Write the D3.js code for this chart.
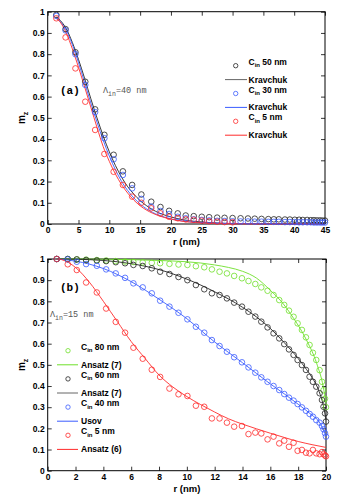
<!DOCTYPE html>
<html>
<head>
<meta charset="utf-8">
<script src="https://cdn.jsdelivr.net/npm/d3@7"></script>
<style>
  body { margin: 0; background: #fff; }
  text { font-family: "Liberation Sans", Arial, sans-serif; }
  text.mono { font-family: "Liberation Mono", "DejaVu Sans Mono", monospace; }
  .tick text { font-size: 8.5px; font-weight: bold; fill: #000; }
  .tick line { stroke: #000; stroke-width: 0.8; }
</style>
</head>
<body>
<svg id="chart" width="359" height="498"></svg>
<script>
// ---- panel (a) data ----
let rA = [1.4, 2.9, 4.5, 6.1, 7.7, 9.2, 10.7, 12.2, 13.7, 15.2, 16.8, 18.3, 19.7, 21.1, 22.4, 23.7, 25.0, 26.2, 27.5, 28.7,
          30.0, 31.3, 32.5, 33.6, 34.7, 35.8, 36.7, 37.5, 38.5, 39.3, 40.1, 40.8, 41.4, 42.1, 42.7, 43.2, 43.7, 44.2, 44.6, 45.0];
let c50 = [0.985, 0.918, 0.809, 0.670, 0.540, 0.420, 0.326, 0.248, 0.184, 0.139, 0.105, 0.080, 0.062, 0.050, 0.040, 0.037, 0.034, 0.032, 0.030, 0.029,
           0.028, 0.027, 0.026, 0.025, 0.024, 0.023, 0.022, 0.022, 0.021, 0.021, 0.020, 0.020, 0.019, 0.019, 0.018, 0.018, 0.017, 0.017, 0.016, 0.016];
let c30 = [0.980, 0.912, 0.800, 0.655, 0.527, 0.404, 0.305, 0.231, 0.168, 0.118, 0.082, 0.061, 0.047, 0.034, 0.027, 0.022, 0.019, 0.017, 0.015, 0.014,
           0.013, 0.012, 0.012, 0.011, 0.011, 0.010, 0.010, 0.010, 0.009, 0.009, 0.009, 0.008, 0.008, 0.008, 0.008, 0.007, 0.007, 0.007, 0.007, 0.007];
let c5 = [0.969, 0.879, 0.733, 0.576, 0.443, 0.330, 0.246, 0.184, 0.129, 0.100, 0.074, 0.050, 0.034, 0.027, 0.022, 0.020, 0.016, 0.013, 0.011, 0.009, 0.008];

let rAL = [1.4, 2, 3, 4, 5, 6, 7, 8, 9, 10, 11, 12, 13, 14, 15, 16, 17, 18, 19, 20, 22, 24, 26, 28, 30, 35, 40, 45];
let kr50 = [0.975, 0.96, 0.92, 0.855, 0.775, 0.685, 0.59, 0.5, 0.415, 0.34, 0.275, 0.22, 0.175, 0.14, 0.11, 0.087, 0.068, 0.053, 0.042, 0.033,
            0.02, 0.012, 0.007, 0.004, 0.002, 0.001, 0, 0];
let kr30 = [0.972, 0.955, 0.912, 0.845, 0.76, 0.665, 0.57, 0.48, 0.395, 0.32, 0.255, 0.2, 0.157, 0.122, 0.094, 0.072, 0.055, 0.042, 0.032, 0.024,
            0.014, 0.008, 0.005, 0.003, 0.002, 0.001, 0, 0];
let kr5 = [0.968, 0.952, 0.9, 0.825, 0.738, 0.645, 0.55, 0.455, 0.365, 0.295, 0.235, 0.185, 0.145, 0.112, 0.086, 0.066, 0.051, 0.039, 0.03, 0.023,
           0.012, 0.007, 0.004, 0.002, 0.001, 0, 0, 0];

// ---- panel (b) data ----
let rB = [0.65, 1.44, 2.09, 2.76, 3.53, 4.2, 4.89, 5.56, 6.16, 6.83, 7.48, 8.08, 8.75, 9.4, 10.04, 10.65, 11.25, 11.8, 12.35, 12.88, 13.4,
          13.96, 14.43, 14.92, 15.35, 15.8, 16.23, 16.64, 17.0, 17.34, 17.67, 17.96, 18.27, 18.56, 18.82, 19.06, 19.3, 19.54, 19.71, 19.82, 19.93, 20.0];
let c80 = [1.0, 1.0, 0.998, 0.997, 0.995, 0.993, 0.99, 0.988, 0.986, 0.984, 0.982, 0.98, 0.977, 0.974, 0.972, 0.966, 0.961, 0.951, 0.940, 0.932, 0.920,
           0.909, 0.896, 0.882, 0.866, 0.850, 0.830, 0.806, 0.783, 0.756, 0.727, 0.696, 0.665, 0.630, 0.594, 0.557, 0.523, 0.475, 0.42, 0.38, 0.34, 0.30];
let c60 = [1.0, 1.0, 0.998, 0.995, 0.993, 0.99, 0.985, 0.980, 0.972, 0.967, 0.956, 0.940, 0.929, 0.915, 0.900, 0.877, 0.857, 0.838, 0.830, 0.814, 0.794,
           0.775, 0.751, 0.728, 0.704, 0.677, 0.649, 0.625, 0.598, 0.573, 0.547, 0.523, 0.499, 0.476, 0.444, 0.420, 0.397, 0.366, 0.334, 0.302, 0.271, 0.232];
let c40 = [1.0, 0.998, 0.987, 0.976, 0.968, 0.951, 0.932, 0.911, 0.885, 0.866, 0.838, 0.803, 0.775, 0.746, 0.715, 0.680, 0.652, 0.617, 0.589, 0.562, 0.536,
           0.512, 0.488, 0.463, 0.441, 0.420, 0.400, 0.381, 0.362, 0.345, 0.331, 0.315, 0.299, 0.283, 0.268, 0.255, 0.239, 0.227, 0.211, 0.196, 0.177, 0.161];
let cb5 = [1.0, 0.975, 0.948, 0.889, 0.842, 0.766, 0.703, 0.652, 0.581, 0.529, 0.477, 0.443, 0.388, 0.361, 0.353, 0.307, 0.302, 0.247, 0.247, 0.227, 0.208,
           0.211, 0.173, 0.180, 0.176, 0.148, 0.161, 0.129, 0.142, 0.113, 0.132, 0.094, 0.098, 0.085, 0.082, 0.098, 0.082, 0.078, 0.088, 0.078, 0.072, 0.068];

let rG = [0.65, 2, 4, 6, 8, 10, 11, 12, 13, 14, 15, 16, 16.7, 17.67, 18.6, 19.33, 19.8, 20];
let ans80 = [1.0, 1.0, 0.999, 0.997, 0.993, 0.987, 0.981, 0.972, 0.96, 0.942, 0.91, 0.852, 0.806, 0.72, 0.617, 0.507, 0.397, 0.318];
let rK = [0.65, 2, 4, 6, 8, 10, 12, 14, 16, 17, 18, 18.6, 19, 19.5, 19.8, 20];
let ans60 = [1.0, 0.999, 0.993, 0.978, 0.95, 0.905, 0.845, 0.772, 0.672, 0.605, 0.53, 0.478, 0.44, 0.375, 0.31, 0.24];
let rU = [0.65, 2, 4, 6, 8, 10, 12, 14, 16, 17, 18, 19, 19.5, 20];
let usov = [1.0, 0.99, 0.955, 0.893, 0.81, 0.718, 0.608, 0.51, 0.41, 0.363, 0.314, 0.262, 0.232, 0.165];
let rR = [0.65, 1, 2, 3, 4, 5, 6, 7, 8, 9, 10, 11, 12, 13, 14, 15, 16, 17, 18, 19, 20];
let ans6 = [1.0, 0.997, 0.96, 0.89, 0.80, 0.705, 0.61, 0.53, 0.452, 0.395, 0.35, 0.312, 0.277, 0.245, 0.22, 0.198, 0.177, 0.157, 0.138, 0.123, 0.11];

let yTicks = [0, 0.1, 0.2, 0.3, 0.4, 0.5, 0.6, 0.7, 0.8, 0.9, 1];
let xTicksA = [0, 5, 10, 15, 20, 25, 30, 35, 40, 45];
let xTicksB = [0, 2, 4, 6, 8, 10, 12, 14, 16, 18, 20];

let colBlack = "#222", colBlue = "#3a5cff", colRed = "#ff2a2a", colGreen = "#6ee02a";

let svg = d3.select("#chart");

function panel(cfg) {
  let x = d3.scaleLinear().domain(cfg.xDomain).range([47.7, cfg.xRight]);
  let y = d3.scaleLinear().domain([0, 1]).range([cfg.yBottom, cfg.yTop]);
  let g = svg.append("g");

  let fmt = d => d3.format("~g")(d);
  g.append("g").attr("transform", "translate(0," + cfg.yBottom + ")")
    .call(d3.axisBottom(x).tickValues(cfg.xTicks).tickFormat(fmt).tickSizeInner(-4).tickSizeOuter(0).tickPadding(3));
  g.append("g").attr("transform", "translate(0," + cfg.yTop + ")")
    .call(d3.axisTop(x).tickValues(cfg.xTicks).tickFormat("").tickSizeInner(-4).tickSizeOuter(0));
  g.append("g").attr("transform", "translate(47.7,0)")
    .call(d3.axisLeft(y).tickValues(yTicks).tickFormat(fmt).tickSizeInner(-4).tickSizeOuter(0).tickPadding(3));
  g.append("g").attr("transform", "translate(" + cfg.xRight + ",0)")
    .call(d3.axisRight(y).tickValues(yTicks).tickFormat("").tickSizeInner(-4).tickSizeOuter(0));
  g.selectAll(".domain").remove();
  g.append("rect").attr("x", 47.7).attr("y", cfg.yTop)
    .attr("width", cfg.xRight - 47.7).attr("height", cfg.yBottom - cfg.yTop)
    .attr("fill", "none").attr("stroke", "#000").attr("stroke-width", 1);

  let line = d3.line().x(d => x(d[0])).y(d => y(d[1])).curve(d3.curveMonotoneX);
  cfg.lines.forEach(s => {
    g.append("path").datum(d3.zip(s.r, s.v)).attr("d", line)
      .attr("fill", "none").attr("stroke", s.color).attr("stroke-width", 0.9);
  });
  cfg.points.forEach(s => {
    g.append("g").selectAll("circle").data(d3.zip(s.r, s.v)).enter().append("circle")
      .attr("cx", d => x(d[0])).attr("cy", d => y(d[1])).attr("r", 2.8)
      .attr("fill", "none").attr("stroke", s.color).attr("stroke-width", 0.8);
  });

  // axis labels
  g.append("text").attr("x", (47.7 + cfg.xRight) / 2).attr("y", cfg.yBottom + 21)
    .attr("text-anchor", "middle").attr("font-size", 9.5).attr("font-weight", "bold").text("r (nm)");
  let yl = g.append("text").attr("transform", "translate(25," + (cfg.yBottom + cfg.yTop) / 2 + ") rotate(-90)")
    .attr("text-anchor", "middle").attr("font-size", 10).attr("font-weight", "bold");
  yl.append("tspan").text("m");
  yl.append("tspan").attr("font-size", 7).attr("dy", 2.5).text("z");

  // panel tag and annotation
  g.append("text").attr("class", "mono").attr("x", cfg.tag[0]).attr("y", cfg.tag[1])
    .attr("font-size", 11).attr("font-weight", "bold").text(cfg.tag[2]);
  let an = g.append("text").attr("class", "mono").attr("x", cfg.ann[0]).attr("y", cfg.ann[1])
    .attr("font-size", 8.5).attr("fill", "#555");
  an.append("tspan").text("Λ");
  an.append("tspan").attr("font-size", 6.5).attr("dy", 3).text("in");
  an.append("tspan").attr("dy", -3).text(cfg.ann[2]);

  // legend
  let lg = g.append("g");
  cfg.legend.forEach((e, i) => {
    let yy = cfg.lg.y0 + i * cfg.lg.dy;
    if (e.type === "m") {
      lg.append("circle").attr("cx", cfg.lg.mx).attr("cy", yy).attr("r", 2.2)
        .attr("fill", "none").attr("stroke", e.color).attr("stroke-width", 0.8);
      let t = lg.append("text").attr("x", cfg.lg.tx).attr("y", yy - 1).attr("font-size", 8.5).attr("font-weight", "bold");
      t.append("tspan").text("C");
      t.append("tspan").attr("font-size", 6).attr("dy", 2.5).text("in");
      t.append("tspan").attr("dy", -2.5).text(" " + e.label);
    } else {
      lg.append("line").attr("x1", cfg.lg.l1).attr("x2", cfg.lg.l2).attr("y1", yy).attr("y2", yy)
        .attr("stroke", e.color).attr("stroke-width", 1);
      lg.append("text").attr("x", cfg.lg.tx).attr("y", yy + 3).attr("font-size", 8.5).attr("font-weight", "bold").text(e.label);
    }
  });
}

panel({
  xDomain: [0, 45], xRight: 325, yTop: 11.7, yBottom: 224, xTicks: xTicksA,
  lines: [{ r: rAL, v: kr50, color: colBlack }, { r: rAL, v: kr30, color: colBlue }, { r: rAL, v: kr5, color: colRed }],
  points: [{ r: rA, v: c50, color: colBlack }, { r: rA, v: c30, color: colBlue }, { r: rA.slice(0, c5.length), v: c5, color: colRed }],
  tag: [60, 94, "(a)"], ann: [103, 93, "=40  nm"],
  lg: { y0: 65.7, dy: 13.9, mx: 235.7, l1: 225, l2: 247, tx: 248.5 },
  legend: [
    { type: "m", color: colBlack, label: "50 nm" }, { type: "l", color: "#666", label: "Kravchuk" },
    { type: "m", color: colBlue, label: "30 nm" }, { type: "l", color: colBlue, label: "Kravchuk" },
    { type: "m", color: colRed, label: "5 nm" }, { type: "l", color: colRed, label: "Kravchuk" }
  ]
});

panel({
  xDomain: [0, 20], xRight: 326, yTop: 259, yBottom: 470.7, xTicks: xTicksB,
  lines: [{ r: rG, v: ans80, color: colGreen }, { r: rK, v: ans60, color: colBlack },
          { r: rU, v: usov, color: colBlue }, { r: rR, v: ans6, color: colRed }],
  points: [{ r: rB, v: c80, color: colGreen }, { r: rB, v: c60, color: colBlack },
           { r: rB, v: c40, color: colBlue }, { r: rB, v: cb5, color: colRed }],
  tag: [60, 291, "(b)"], ann: [50, 316.5, "=15  nm"],
  lg: { y0: 350.7, dy: 14.1, mx: 68, l1: 57, l2: 78, tx: 81 },
  legend: [
    { type: "m", color: colGreen, label: "80 nm" }, { type: "l", color: colGreen, label: "Ansatz (7)" },
    { type: "m", color: colBlack, label: "60 nm" }, { type: "l", color: "#666", label: "Ansatz (7)" },
    { type: "m", color: colBlue, label: "40 nm" }, { type: "l", color: colBlue, label: "Usov" },
    { type: "m", color: colRed, label: "5 nm" }, { type: "l", color: colRed, label: "Ansatz (6)" }
  ]
});
</script>
</body>
</html>
